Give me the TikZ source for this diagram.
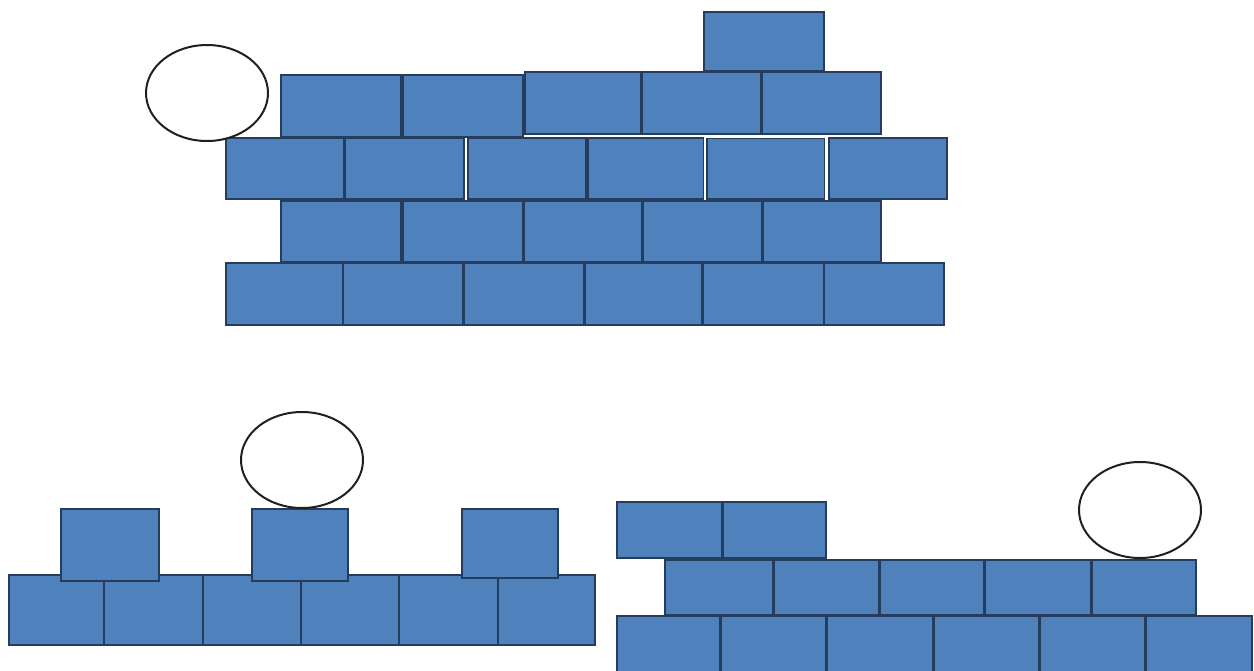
\documentclass[tikz,border=0pt]{standalone}
\usepackage{xcolor}
\usepackage{tikz}
\definecolor{brickblue}{RGB}{79,129,189}
\definecolor{brickline}{RGB}{38,60,92}

\begin{document}
\begin{tikzpicture}[
  x=1pt, y=-1pt,
  brick/.style={draw=brickline, fill=brickblue, line width=1.8pt},
  ball/.style={draw=black!88, fill=white, line width=2pt},
  seam/.style={draw=white, line width=1.6pt},
]
  \clip (0,0) rectangle (1254,670);

  % Top wall
  \foreach \xa/\xb in {226/343, 343/463, 464/584, 585.5/701.5, 703/824, 824/944}
    \draw[brick] (\xa,263) rectangle (\xb,325);
  \foreach \xa/\xb in {281/401, 403/523, 524/642, 643.5/762, 763.5/881}
    \draw[brick] (\xa,201) rectangle (\xb,262);
  \foreach \xa/\xb in {226/344, 345.5/464, 468/586, 588/703.5, 707/824.5, 829/947}
    \draw[brick] (\xa,138) rectangle (\xb,199);
  \foreach \xa/\xb in {281/401, 403/523}
    \draw[brick] (\xa,75) rectangle (\xb,137);
  \foreach \xa/\xb in {525/641, 642.5/761, 762.5/881}
    \draw[brick] (\xa,72) rectangle (\xb,134);
  \draw[brick] (704,12) rectangle (824,71);

  % White seams
  \draw[seam] (466,138) -- (466,199);
  \draw[seam] (705,137) -- (827,137) -- (827,199);

  \draw[ball] (207,93) ellipse [x radius=61pt, y radius=48pt];

  % Bottom-left wall
  \foreach \xa/\xb in {9/104, 104/203, 203/301, 301/399, 399/498, 498/595}
    \draw[brick] (\xa,575) rectangle (\xb,645);
  \foreach \xa/\xb/\yb in {61/159/581, 252/348/581, 462/558/578}
    \draw[brick] (\xa,509) rectangle (\xb,\yb);

  \draw[ball] (302,460) ellipse [x radius=61pt, y radius=48pt];

  % Bottom-right wall
  \foreach \xa/\xb in {617/720, 721.5/826, 827.5/933, 934.5/1039, 1040.5/1145, 1146.5/1252}
    \draw[brick] (\xa,616) rectangle (\xb,680);
  \foreach \xa/\xb in {665/772.5, 774/879, 880/983.5, 985/1091, 1092.5/1196}
    \draw[brick] (\xa,560) rectangle (\xb,615);
  \foreach \xa/\xb in {617/721.5, 723/826}
    \draw[brick] (\xa,502) rectangle (\xb,558);

  \draw[ball] (1140,510) ellipse [x radius=61pt, y radius=48pt];

\end{tikzpicture}
\end{document}
